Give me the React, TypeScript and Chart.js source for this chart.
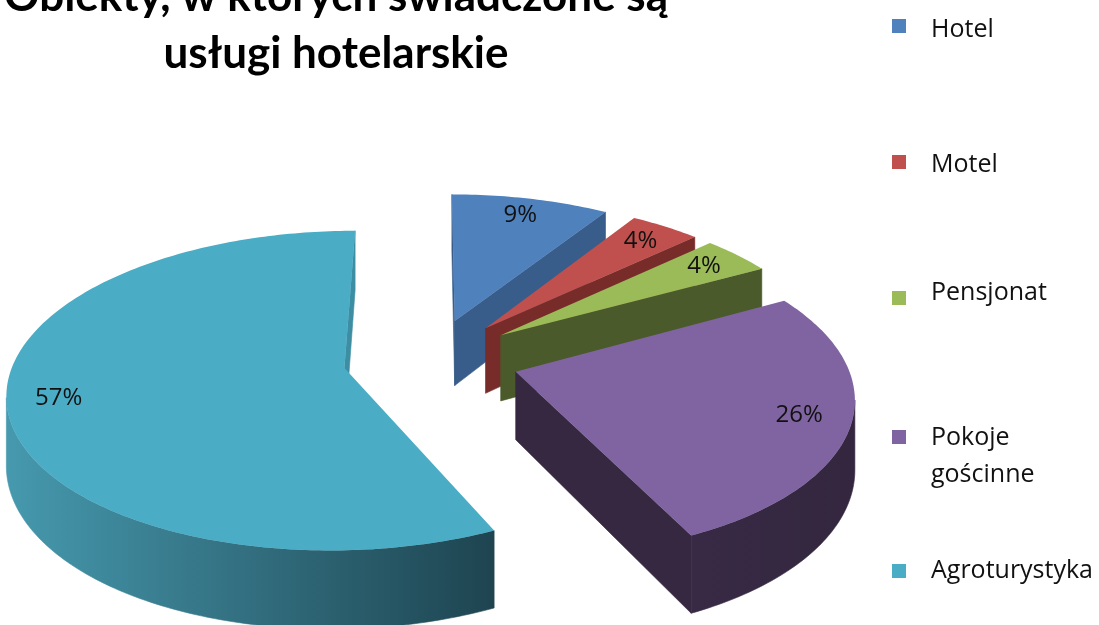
import React, { useEffect, useRef } from "react";
import { Chart, registerables } from "chart.js";

Chart.register(...registerables);

// ---- data ----
const categories = ["Hotel", "Motel", "Pensjonat", "Pokoje gościnne", "Agroturystyka"];
const shares = [9, 4, 4, 26, 57];
const titleLines = ["Obiekty, w których świadczone są", "usługi hotelarskie"];

// ---- style ----
const topColors = ["#4f81bd", "#c0504d", "#9bbb59", "#8064a2", "#4bacc6"];
const radialSideColors = ["#385d8a", "#772c2a", "#4a5a2a", "#352840", "#3d8ea3"];
const outerSideFrom = ["#385d8a", "#772c2a", "#4a5a2a", "#382a45", "#4699ae"];
const outerSideTo = ["#385d8a", "#772c2a", "#4a5a2a", "#33263e", "#1e4450"];
const legendBoxCenters = [26, 162, 298, 437, 571];
const legendBaselines = [37, 172, 300, 445, 578];

const W = 1099;
const H = 625;

type Pt = [number, number];

function polyArea(pts: Pt[]) {
  let a = 0;
  for (let i = 0; i < pts.length; i++) {
    const p = pts[i];
    const q = pts[(i + 1) % pts.length];
    a += p[0] * q[1] - q[0] * p[1];
  }
  return a / 2;
}

function pathPoly(ctx: CanvasRenderingContext2D, pts: Pt[]) {
  ctx.beginPath();
  ctx.moveTo(pts[0][0], pts[0][1]);
  for (let i = 1; i < pts.length; i++) ctx.lineTo(pts[i][0], pts[i][1]);
  ctx.closePath();
}

const pie3dPlugin = {
  id: "pie3d",
  beforeDatasetsDraw(chart: any, _args: any, opts: any) {
    const ctx: CanvasRenderingContext2D = chart.ctx;
    const meta = chart.getDatasetMeta(0);
    const ds = chart.data.datasets[0];
    const values: number[] = ds.data;
    const total = values.reduce((a, b) => a + b, 0);

    const slices = meta.data.map((arc: any, i: number) => {
      const R = arc.outerRadius;
      const a0 = arc.startAngle;
      const a1 = arc.endAngle;
      const mid = (a0 + a1) / 2;
      const d = (arc.options.offset || 0) / R;
      const ox = d * Math.cos(mid);
      const oy = d * Math.sin(mid);
      const P = (m: Pt, h: number): Pt => {
        const s = 1 / (1 - opts.persp * m[1]);
        return [arc.x + R * m[0] * s, arc.y + R * opts.tilt * m[1] * s + h * opts.depth * s];
      };
      const n = Math.max(6, Math.ceil((a1 - a0) / (Math.PI / 180)));
      const rim: Pt[] = [];
      for (let k = 0; k <= n; k++) {
        const t = a0 + ((a1 - a0) * k) / n;
        rim.push([ox + Math.cos(t), oy + Math.sin(t)]);
      }
      return { i, mid, ox, oy, P, rim };
    });

    slices.sort((a: any, b: any) => a.oy - b.oy);

    for (const s of slices) {
      const { i, P, rim } = s;
      const c: Pt = [s.ox, s.oy];
      const top: Pt[] = [P(c, 0), ...rim.map((p: Pt) => P(p, 0))];
      const topSign = Math.sign(polyArea(top));
      const visible = (q: Pt[]) => polyArea(q) * topSign < -0.01;

      // radial faces
      const first = rim[0];
      const last = rim[rim.length - 1];
      const faces: Pt[][] = [
        [P(c, 0), P(first, 0), P(first, 1), P(c, 1)],
        [P(last, 0), P(c, 0), P(c, 1), P(last, 1)],
      ];
      for (const f of faces) {
        if (!visible(f)) continue;
        pathPoly(ctx, f);
        ctx.fillStyle = radialSideColors[i];
        ctx.strokeStyle = radialSideColors[i];
        ctx.lineWidth = 0.6;
        ctx.fill();
        ctx.stroke();
      }

      // outer curved side, as contiguous visible runs
      let run: Pt[] = [];
      const flush = () => {
        if (run.length >= 2) {
          const tops = run.map((p) => P(p, 0));
          const bots = run.map((p) => P(p, 1)).reverse();
          const pts = tops.concat(bots);
          let minX = Infinity;
          let maxX = -Infinity;
          for (const p of pts) {
            minX = Math.min(minX, p[0]);
            maxX = Math.max(maxX, p[0]);
          }
          const g = ctx.createLinearGradient(minX, 0, Math.max(maxX, minX + 1), 0);
          g.addColorStop(0, outerSideFrom[i]);
          g.addColorStop(1, outerSideTo[i]);
          pathPoly(ctx, pts);
          ctx.fillStyle = g;
          ctx.strokeStyle = g;
          ctx.lineWidth = 0.6;
          ctx.fill();
          ctx.stroke();
        }
        run = [];
      };
      for (let k = 0; k < rim.length - 1; k++) {
        const q: Pt[] = [P(rim[k], 0), P(rim[k + 1], 0), P(rim[k + 1], 1), P(rim[k], 1)];
        if (visible(q)) {
          if (run.length === 0) run.push(rim[k]);
          run.push(rim[k + 1]);
        } else {
          flush();
        }
      }
      flush();

      // top face
      pathPoly(ctx, top);
      ctx.fillStyle = topColors[i];
      ctx.fill();
    }

    // percentage labels
    ctx.save();
    ctx.font = opts.labelFont;
    ctx.fillStyle = opts.labelColor;
    ctx.textAlign = "center";
    ctx.textBaseline = "middle";
    for (const s of slices) {
      const r = opts.labelRadius;
      const pos = s.P([s.ox + r * Math.cos(s.mid), s.oy + r * Math.sin(s.mid)], 0);
      const pct = Math.round((values[s.i] / total) * 100);
      ctx.fillText(pct + "%", pos[0], pos[1]);
    }
    ctx.restore();
    return false;
  },
};

function wrapText(ctx: CanvasRenderingContext2D, text: string, maxWidth: number) {
  const words = text.split(" ");
  const lines: string[] = [];
  let cur = "";
  for (const w of words) {
    const test = cur ? cur + " " + w : w;
    if (cur && ctx.measureText(test).width > maxWidth) {
      lines.push(cur);
      cur = w;
    } else {
      cur = test;
    }
  }
  if (cur) lines.push(cur);
  return lines;
}

const decorPlugin = {
  id: "decor",
  afterDraw(chart: any, _args: any, opts: any) {
    const ctx: CanvasRenderingContext2D = chart.ctx;
    ctx.save();
    // title
    ctx.font = opts.titleFont;
    ctx.fillStyle = "#000";
    ctx.textAlign = "center";
    ctx.textBaseline = "alphabetic";
    opts.title.forEach((ln: string, j: number) => {
      ctx.fillText(ln, opts.titleX, opts.titleBaseline + j * opts.titleLineHeight);
    });
    // legend
    const labels: string[] = chart.data.labels;
    const colors: string[] = chart.data.datasets[0].backgroundColor;
    ctx.font = opts.legendFont;
    ctx.textAlign = "left";
    labels.forEach((lab, i) => {
      const cy = opts.boxCenters[i];
      ctx.fillStyle = colors[i];
      ctx.fillRect(opts.boxX, cy - opts.boxSize / 2, opts.boxSize, opts.boxSize);
      ctx.fillStyle = "#111";
      const lines = wrapText(ctx, lab, opts.maxWidth);
      lines.forEach((ln, j) => {
        ctx.fillText(ln, opts.textX, opts.baselines[i] + j * opts.lineHeight);
      });
    });
    ctx.restore();
  },
};

export default function App() {
  const ref = useRef<HTMLCanvasElement>(null);
  useEffect(() => {
    const canvas = ref.current;
    if (!canvas) return;
    const chart = new Chart(canvas, {
      type: "pie",
      data: {
        labels: categories,
        datasets: [
          {
            data: shares,
            backgroundColor: topColors,
            borderWidth: 0,
            offset: 88,
            radius: 330,
          } as any,
        ],
      },
      options: {
        responsive: false,
        animation: false,
        events: [],
        layout: { padding: { left: 0, right: 237, top: 93, bottom: 0 } },
        plugins: {
          legend: { display: false },
          title: { display: false },
          tooltip: { enabled: false },
          pie3d: {
            persp: 0.14,
            tilt: 0.467,
            depth: 67,
            labelRadius: 0.85,
            labelFont: "24px 'Open Sans'",
            labelColor: "#111",
          },
          decor: {
            title: titleLines,
            titleFont: "bold 44px Lato",
            titleX: 336,
            titleBaseline: 11,
            titleLineHeight: 57,
            legendFont: "25px 'Open Sans'",
            boxX: 892,
            boxSize: 14,
            boxCenters: legendBoxCenters,
            baselines: legendBaselines,
            textX: 931,
            maxWidth: 165,
            lineHeight: 37,
          },
        } as any,
      },
      plugins: [pie3dPlugin, decorPlugin],
    });
    return () => chart.destroy();
  }, []);
  return (
    <div style={{ position: "fixed", left: 0, top: 0, width: W, height: H, background: "#fff" }}>
      <canvas ref={ref} width={W} height={H} style={{ display: "block" }} />
    </div>
  );
}
